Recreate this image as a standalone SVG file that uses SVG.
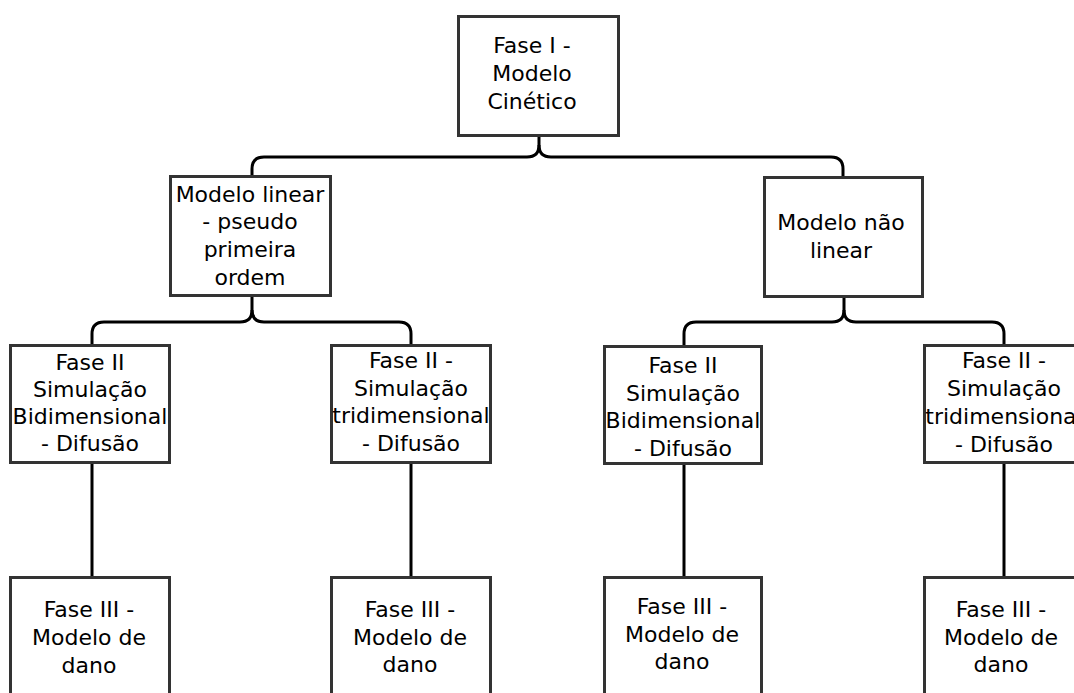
<svg xmlns="http://www.w3.org/2000/svg" width="1074" height="693" viewBox="0 0 1074 693">
<style>
.box{fill:#fff;stroke:#333;stroke-width:3}
.t{font-family:"DejaVu Sans",sans-serif;font-size:22px;fill:#000;text-anchor:middle}
.c{fill:none;stroke:#000;stroke-width:3;stroke-linejoin:round}
</style>
<rect width="1074" height="693" fill="#fff"/>
<g id="connectors">
<path class="c" d="M539,136 V145 Q539,157 527,157 H264 Q252,157 252,169 V176"/>
<path class="c" d="M539,145 Q539,157 551,157 H831 Q843,157 843,169 V177"/>
<path class="c" d="M252,296 V310 Q252,322 240,322 H104 Q92,322 92,334 V345"/>
<path class="c" d="M252,310 Q252,322 264,322 H399 Q411,322 411,334 V345"/>
<path class="c" d="M844,297 V310 Q844,322 832,322 H696 Q684,322 684,334 V346"/>
<path class="c" d="M844,310 Q844,322 856,322 H992 Q1004,322 1004,334 V345"/>
<path class="c" d="M92,463 V577 M411,463 V577 M684,464 V577 M1004,463 V577"/>
</g>
<g id="n-fase1"><rect class="box" x="458.5" y="16.5" width="160" height="119"/>
<text class="t" x="532" y="53">Fase I -</text><text class="t" x="532" y="81">Modelo</text><text class="t" x="532" y="109">Cinético</text></g>
<g id="n-linear"><rect class="box" x="170.5" y="176.5" width="160" height="119"/>
<text class="t" x="250" y="202">Modelo linear</text><text class="t" x="250" y="229">- pseudo</text><text class="t" x="250" y="257">primeira</text><text class="t" x="250" y="285">ordem</text></g>
<g id="n-naolinear"><rect class="box" x="764.5" y="177.5" width="158" height="119"/>
<text class="t" x="841" y="230">Modelo não</text><text class="t" x="841" y="258">linear</text></g>
<g id="n-a2"><rect class="box" x="10.5" y="345.5" width="159" height="117"/>
<text class="t" x="90" y="370">Fase II</text><text class="t" x="90" y="397">Simulação</text><text class="t" x="90" y="424">Bidimensional</text><text class="t" x="90" y="451">- Difusão</text></g>
<g id="n-b2"><rect class="box" x="331.5" y="345.5" width="159" height="117"/>
<text class="t" x="411" y="368">Fase II -</text><text class="t" x="411" y="396">Simulação</text><text class="t" x="411" y="423">tridimensional</text><text class="t" x="411" y="451">- Difusão</text></g>
<g id="n-c2"><rect class="box" x="604.5" y="346.5" width="157" height="117"/>
<text class="t" x="683" y="373">Fase II</text><text class="t" x="683" y="401">Simulação</text><text class="t" x="683" y="428">Bidimensional</text><text class="t" x="683" y="456">- Difusão</text></g>
<g id="n-d2"><rect class="box" x="924.5" y="345.5" width="159" height="117"/>
<text class="t" x="1004" y="368">Fase II -</text><text class="t" x="1004" y="396">Simulação</text><text class="t" x="1004" y="424">tridimensional</text><text class="t" x="1004" y="452">- Difusão</text></g>
<g id="n-a3"><rect class="box" x="10.5" y="577.5" width="159" height="200"/>
<text class="t" x="89" y="617">Fase III -</text><text class="t" x="89" y="645">Modelo de</text><text class="t" x="89" y="673">dano</text></g>
<g id="n-b3"><rect class="box" x="331.5" y="577.5" width="159" height="200"/>
<text class="t" x="410" y="617">Fase III -</text><text class="t" x="410" y="645">Modelo de</text><text class="t" x="410" y="672">dano</text></g>
<g id="n-c3"><rect class="box" x="604.5" y="577.5" width="157" height="200"/>
<text class="t" x="682" y="614">Fase III -</text><text class="t" x="682" y="642">Modelo de</text><text class="t" x="682" y="669">dano</text></g>
<g id="n-d3"><rect class="box" x="924.5" y="577.5" width="159" height="200"/>
<text class="t" x="1001" y="617">Fase III -</text><text class="t" x="1001" y="645">Modelo de</text><text class="t" x="1001" y="672">dano</text></g>
</svg>
